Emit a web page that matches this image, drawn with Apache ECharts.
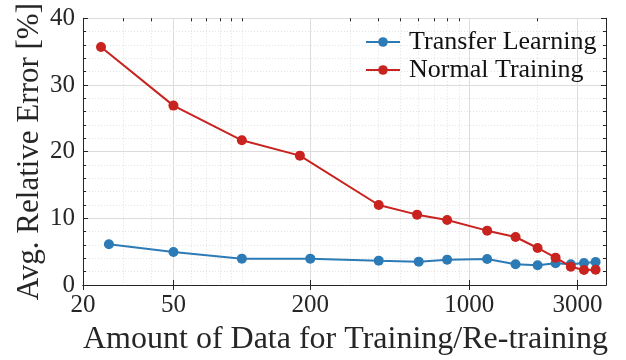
<!DOCTYPE html>
<html>
<head>
<meta charset="utf-8">
<style>
  html, body { margin: 0; padding: 0; background: #ffffff; }
  #chart { width: 626px; height: 360px; }
</style>
<script src="https://cdn.jsdelivr.net/npm/echarts@6/dist/echarts.min.js"></script>
</head>
<body>
<div id="chart"></div>
<script>
// Amount of training data (log scale) vs. average relative error
const transferX = [26, 50, 100, 200, 400, 600, 800, 1200, 1600, 2000, 2400, 2800, 3200, 3600];
const transferErr = [6.1, 4.95, 3.95, 3.95, 3.65, 3.5, 3.8, 3.9, 3.1, 2.95, 3.25, 3.1, 3.3, 3.45];
const normalX = [24, 50, 100, 180, 400, 590, 800, 1200, 1600, 2000, 2400, 2800, 3200, 3600];
const normalErr = [35.7, 26.9, 21.7, 19.4, 12.0, 10.55, 9.75, 8.15, 7.2, 5.55, 4.1, 2.75, 2.25, 2.3];

const xMajorTicks = [20, 50, 200, 1000, 3000];
const xMinorTicks = [30, 40, 60, 70, 80, 90, 100, 300, 400, 500, 600, 700, 800, 900, 2000, 4000];
const seriesNames = ['Transfer Learning', 'Normal Training'];
const xTitle = 'Amount of Data for Training/Re-training';
const yTitle = 'Avg. Relative Error [%]';

const FONT = '"Liberation Serif", "DejaVu Serif", serif';
const INK = '#262626';
const BLUE = '#2c7bb6';
const RED = '#c8231f';

const toPairs = (xs, ys) => xs.map((x, i) => [x, ys[i]]);

function logAxis(opts) {
  return Object.assign({
    type: 'log',
    logBase: 10,
    min: 20,
    max: 4000,
    axisLine: { show: false },
    axisLabel: { show: false },
    axisTick: { show: false },
    splitLine: { show: false },
    minorTick: { show: false },
    minorSplitLine: { show: false }
  }, opts);
}

const chart = echarts.init(document.getElementById('chart'), null, { renderer: 'canvas' });

chart.setOption({
  animation: false,
  backgroundColor: '#ffffff',
  textStyle: { fontFamily: FONT, color: INK },
  grid: { left: 83, right: 20, top: 16, bottom: 75, containLabel: false },
  // x-axis title, laid out under the tick labels
  title: {
    text: xTitle,
    left: 83,
    top: 324,
    padding: 0,
    textStyle: { fontFamily: FONT, fontSize: 32, fontWeight: 'normal', color: INK }
  },
  legend: {
    orient: 'vertical',
    left: 360,
    top: 24,
    itemWidth: 34,
    itemHeight: 12,
    itemGap: 2,
    data: seriesNames,
    textStyle: { fontFamily: FONT, fontSize: 26, lineHeight: 26, color: '#111', padding: [0, 0, 0, 4] }
  },
  xAxis: [
    // bottom axis: major ticks, labels and solid grid lines
    logAxis({
      position: 'bottom',
      axisLine: { show: true, lineStyle: { color: INK, width: 1 } },
      axisLabel: {
        show: true, customValues: xMajorTicks, fontFamily: FONT, fontSize: 25, color: INK, margin: 8,
        formatter: v => String(Math.round(v))
      },
      axisTick: { show: true, inside: true, length: 5, customValues: xMajorTicks, lineStyle: { color: INK } },
      splitLine: { show: true, lineStyle: { color: '#dcdcdc', width: 1 } }
    }),
    // top border with major ticks
    logAxis({
      position: 'top',
      axisLine: { show: true, lineStyle: { color: INK, width: 1 } },
      axisTick: { show: true, inside: true, length: 5, customValues: xMajorTicks, lineStyle: { color: INK } }
    }),
    // minor ticks along the top border and dotted minor grid lines
    logAxis({
      position: 'top',
      axisTick: { show: true, inside: true, length: 3, customValues: xMinorTicks, lineStyle: { color: INK } },
      splitLine: { show: true, lineStyle: { color: '#e2e2e2', width: 1, type: [1, 2] } }
    })
  ],
  yAxis: [
    {
      type: 'value',
      position: 'left',
      min: 0,
      max: 40,
      interval: 10,
      name: yTitle,
      nameLocation: 'middle',
      nameGap: 38,
      nameMoveOverlap: false,
      nameRotate: 90,
      nameTextStyle: { fontFamily: FONT, fontSize: 31, color: INK },
      axisLine: { show: true, lineStyle: { color: INK, width: 1 } },
      axisLabel: { fontFamily: FONT, fontSize: 25, color: INK, margin: 8 },
      axisTick: { show: true, inside: true, length: 5, lineStyle: { color: INK } },
      minorTick: { show: true, splitNumber: 5, length: 3, lineStyle: { color: INK } },
      splitLine: { show: true, lineStyle: { color: '#dcdcdc', width: 1 } },
      minorSplitLine: { show: true, lineStyle: { color: '#e2e2e2', width: 1, type: [1, 2] } }
    },
    {
      type: 'value',
      position: 'right',
      min: 0,
      max: 40,
      interval: 10,
      axisLine: { show: true, lineStyle: { color: INK, width: 1 } },
      axisLabel: { show: false },
      axisTick: { show: true, inside: true, length: 5, lineStyle: { color: INK } },
      minorTick: { show: true, splitNumber: 5, length: 3, lineStyle: { color: INK } },
      splitLine: { show: false },
      minorSplitLine: { show: false }
    }
  ],
  series: [
    {
      name: seriesNames[0],
      type: 'line',
      xAxisIndex: 0,
      yAxisIndex: 0,
      data: toPairs(transferX, transferErr),
      symbol: 'circle',
      symbolSize: 10,
      color: BLUE,
      lineStyle: { width: 2, color: BLUE },
      itemStyle: { color: BLUE },
      z: 3
    },
    {
      name: seriesNames[1],
      type: 'line',
      xAxisIndex: 0,
      yAxisIndex: 0,
      data: toPairs(normalX, normalErr),
      symbol: 'circle',
      symbolSize: 10,
      color: RED,
      lineStyle: { width: 2, color: RED },
      itemStyle: { color: RED },
      z: 4
    }
  ]
});
</script>
</body>
</html>
